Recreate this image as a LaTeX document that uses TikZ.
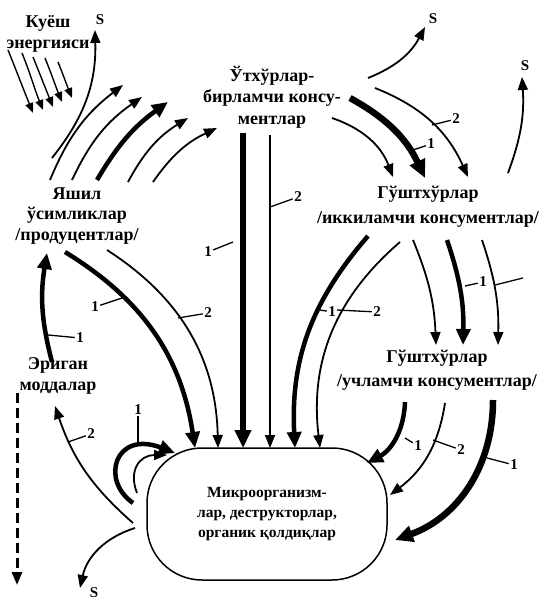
\documentclass[tikz,border=0pt]{standalone}
\usepackage{fontspec}
\setmainfont{Liberation Serif}
\usetikzlibrary{arrows.meta}
\newcommand{\flow}[5]{\coordinate (#2a) at (#3); \coordinate (#2b) at (#4); \draw[#1] (#2a) to[#5] (#2b);}
\newcommand{\numlab}[4]{\node[num] (#1) at (#2) {#3}; \coordinate (#1x) at (#4); \draw[ldr] (#1) -- (#1x);}
\begin{document}
\begin{tikzpicture}[x=1pt,y=-1pt,
  lab/.style={font=\bfseries\fontsize{18}{21.5}\selectfont, align=center, inner sep=0pt},
  num/.style={font=\bfseries\fontsize{15}{15}\selectfont, inner sep=0pt, outer sep=1.5pt},
  fs/.style={line width=1.4pt, -{Triangle[length=10pt,width=8pt]}},
  fa/.style={line width=1.8pt, -{Triangle[length=13pt,width=10pt]}},
  fb/.style={line width=4.5pt, -{Triangle[length=16pt,width=14pt]}},
  fc/.style={line width=6.5pt, -{Triangle[length=18pt,width=16pt]}},
  ldr/.style={line width=1.3pt},
]
\useasboundingbox (0,0) rectangle (544,604);

% text nodes
\node[lab] (sun) at (48,34) {Куёш\\энергияси};
\node[lab] (herb) at (272,97) {Ўтхўрлар-\\бирламчи консу-\\ментлар};
\node[lab, font=\bfseries\fontsize{18}{20.5}\selectfont] (prod) at (77,216) {Яшил\\ўсимликлар\\/продуцентлар/};
\node[lab, font=\bfseries\fontsize{18}{25}\selectfont] (carn) at (428,207) {Гўштхўрлар\\/иккиламчи консументлар/};
\node[lab, font=\bfseries\fontsize{18}{24}\selectfont] (tert) at (437,370) {Гўштхўрлар\\/учламчи консументлар/};
\node[lab] (dis) at (58,376) {Эриган\\моддалар};
\node[draw, line width=1.5pt, rounded corners=55pt, minimum width=240pt, minimum height=132pt,
      align=center, font=\bfseries\fontsize{15.5}{20}\selectfont] (micro) at (267,514)
      {Микроорганизм-\\лар, деструкторлар,\\органик қолдиқлар};

% S labels
\node[num] (s1) at (100,20) {S};
\node[num] (s2) at (433,19) {S};
\node[num] (s3) at (525,66) {S};
\node[num] (s4) at (94,593) {S};

% sun rays
\flow{fs}{ra}{8,50}{33,113}{out=-68,in=112}
\flow{fs}{rb}{22,53}{43,110}{out=-68,in=112}
\flow{fs}{rc}{33,57}{53,107}{out=-68,in=112}
\flow{fs}{rd}{45,58}{62,102}{out=-68,in=112}
\flow{fs}{re}{58,62}{72,98}{out=-68,in=112}

% producers -> S and -> herbivores
\flow{fa}{pS}{52,158}{95,30}{bend right=20}
\flow{fa}{pa}{50,180}{123,85}{bend left=15}
\flow{fa}{pb}{72,180}{142,97}{bend left=15}
\flow{fb}{pc}{97,180}{168,102}{bend left=12}
\flow{fa}{pd}{128,182}{188,118}{bend left=15}
\flow{fa}{pe}{153,182}{217,128}{bend left=15}

% herbivores -> S, carnivores
\flow{fa}{hS}{368,78}{425,27}{bend right=20}
\flow{fa}{ha}{332,118}{393,177}{bend left=25}
\flow{fc}{hb}{350,98}{425,178}{bend left=18}
\flow{fa}{hc}{375,88}{468,177}{bend left=22}

% carnivores -> S
\flow{fa}{cS}{508,173}{522,77}{bend right=12}

% herbivores -> microorganisms
\flow{fc}{hm}{243,133}{243,448}{}
\flow{fa}{hn}{270,135}{270,448}{}

% producers -> microorganisms
\flow{fb}{pm}{65,252}{195,448}{bend left=25}
\flow{fa}{pn}{107,250}{218,448}{bend left=28}

% carnivores -> microorganisms
\flow{fb}{km}{368,236}{295,448}{bend right=22}
\flow{fa}{kn}{400,242}{320,448}{bend right=28}

% carnivores -> tertiary
\flow{fa}{ta}{413,240}{436,345}{bend left=10}
\flow{fb}{tb}{447,240}{463,345}{bend left=10}
\flow{fa}{tc}{482,240}{498,345}{bend left=10}

% tertiary -> microorganisms
\flow{fb}{ua}{405,402}{367,463}{bend left=30}
\flow{fa}{ub}{445,403}{390,495}{bend left=22}
\flow{fc}{uc}{493,400}{395,540}{bend left=35}

% dissolved -> producers, microorganisms -> dissolved, -> S
\flow{fb}{dp}{52,362}{47,253}{bend left=12}
\flow{fa}{md}{133,523}{55,406}{bend left=15}
\flow{fa}{mS}{135,528}{80,588}{bend right=30}

% self loops
\coordinate (la) at (133,503); \coordinate (lb) at (175,453);
\draw[fb] (la) .. controls (100,480) and (115,430) .. (lb);
\coordinate (lc) at (137,493); \coordinate (ld) at (167,455);
\draw[fa] (lc) .. controls (128,470) and (140,455) .. (ld);

% dashed outflow
\flow{line width=3pt, dash pattern=on 10pt off 5pt, -{Triangle[length=13pt,width=10pt]}}{dd}{17,393}{17,585}{}

% number labels with leaders
\numlab{n1}{208,252}{1}{233,242}
\numlab{n2}{298,197}{2}{270,207}
\numlab{n3}{431,144}{1}{413,150}
\numlab{n4}{456,119}{2}{432,125}
\numlab{n5}{332,312}{1}{320,310}
\numlab{n6}{377,312}{2}{337,310}
\numlab{n7}{483,282}{1}{465,286}
\coordinate (n8a) at (495,285); \coordinate (n8b) at (523,278); \draw[ldr] (n8a) -- (n8b);
\numlab{n9}{418,446}{1}{405,438}
\numlab{n10}{461,450}{2}{433,440}
\numlab{n11}{514,465}{1}{487,458}
\numlab{n12}{95,307}{1}{122,298}
\numlab{n13}{208,313}{2}{178,318}
\numlab{n14}{80,338}{1}{48,335}
\numlab{n15}{91,434}{2}{68,442}
\numlab{n16}{138,410}{1}{138,443}
\end{tikzpicture}
\end{document}
